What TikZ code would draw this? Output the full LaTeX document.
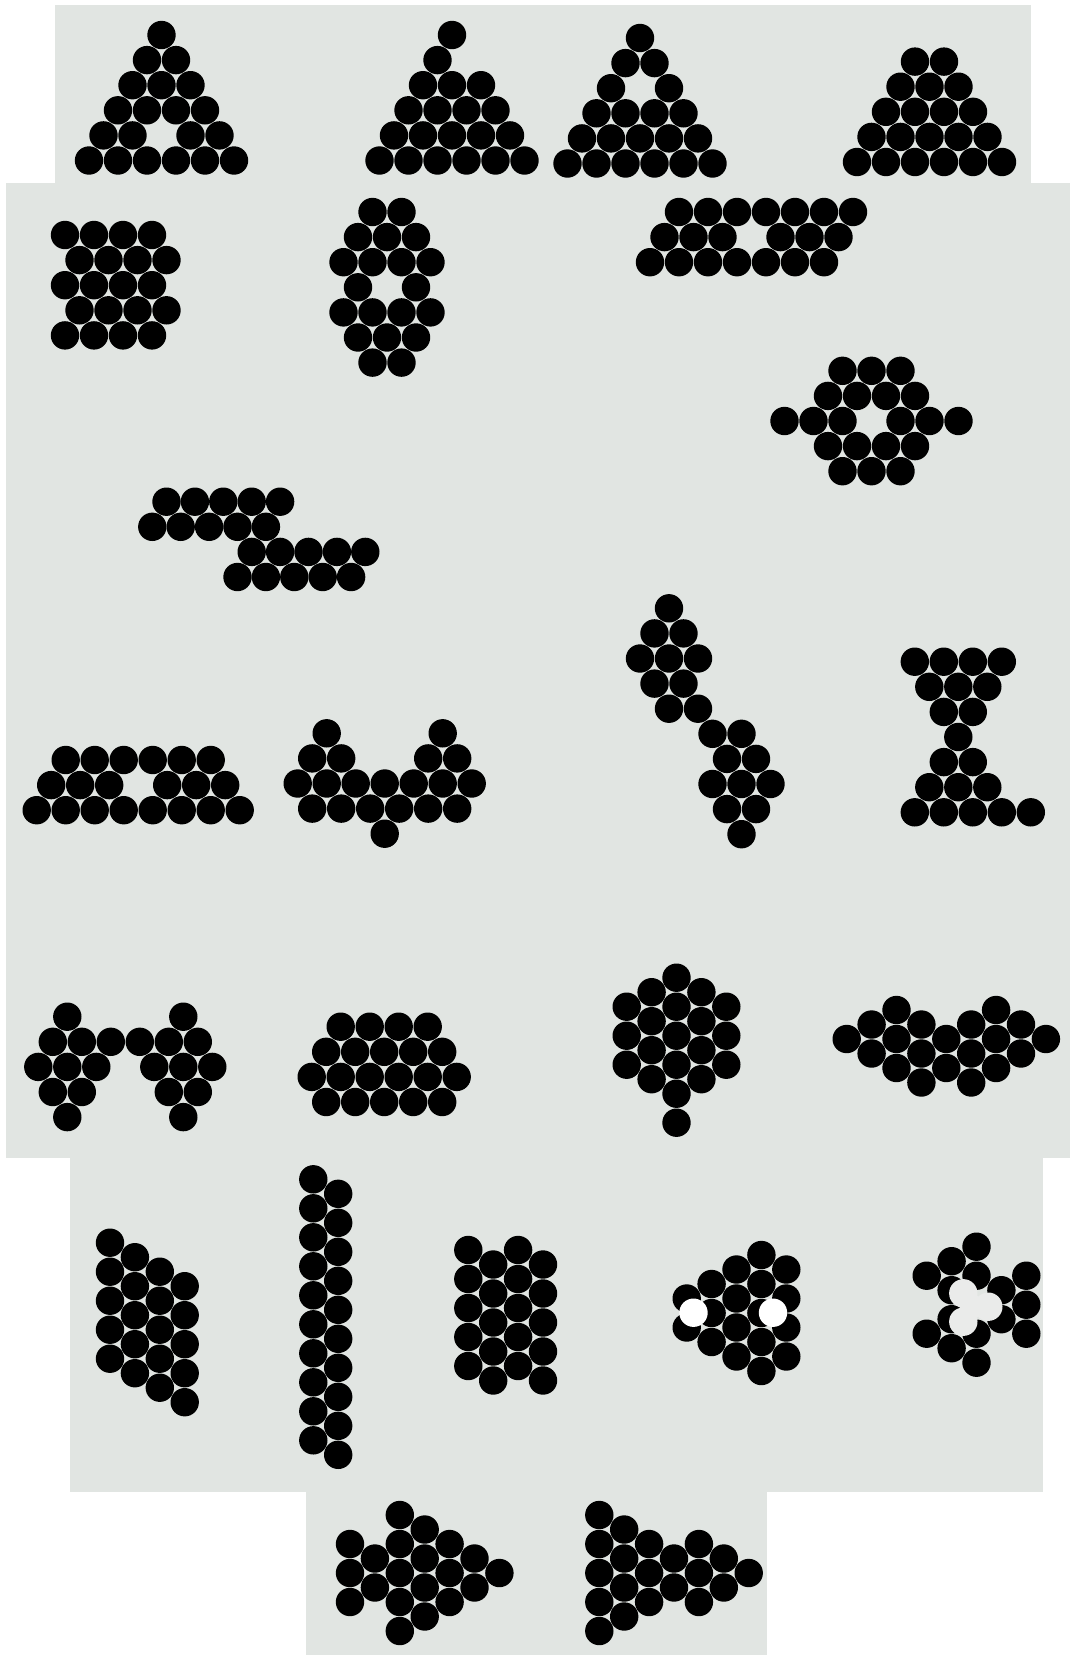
\documentclass[tikz,border=0pt]{standalone}
\usepackage{tikz}
\usepackage{xcolor}
\definecolor{panelGris}{HTML}{E1E5E2}
\definecolor{huecoGris}{HTML}{EAEBEA}
\tikzset{
  bola/.style={fill=black},
  hueco/.style={fill=white},
  huecoclaro/.style={fill=huecoGris},
  filas/.style={x={(7.25pt,0pt)}, y={(0pt,-12.55pt)}},
  columnas/.style={x={(12.45pt,0pt)}, y={(0pt,-7.25pt)}},
}
% racimo de bolas: red, x, y, lista col/fila
\newcommand{\racimo}[4]{%
  \begin{scope}[shift={(#2,#3)}, #1]
    \foreach \cc/\rr in {#4} \fill[bola] (\cc,\rr) circle[radius=7.1pt];
  \end{scope}}

\begin{document}
\begin{tikzpicture}[x=0.5pt, y=-0.5pt]
        \useasboundingbox (0,0) rectangle (1070,1655);
        % Fondo
        \fill[panelGris] (54.5,5) rectangle (1031,184);
        \fill[panelGris] (5.5,183) rectangle (1070,1158);
        \fill[panelGris] (69.5,1157) rectangle (1043,1492);
        \fill[panelGris] (306,1491) rectangle (766.5,1655);
        % Fila superior: triangulos
        \racimo{filas}{161.5}{35}{0/0, -1/1,1/1, -2/2,0/2,2/2, -3/3,-1/3,1/3,3/3,
          -4/4,-2/4,2/4,4/4, -5/5,-3/5,-1/5,1/5,3/5,5/5}
        \racimo{filas}{452}{35}{0/0, -1/1, -2/2,0/2,2/2, -3/3,-1/3,1/3,3/3,
          -4/4,-2/4,0/4,2/4,4/4, -5/5,-3/5,-1/5,1/5,3/5,5/5}
        \racimo{filas}{640}{38}{0/0, -1/1,1/1, -2/2,2/2, -3/3,-1/3,1/3,3/3,
          -4/4,-2/4,0/4,2/4,4/4, -5/5,-3/5,-1/5,1/5,3/5,5/5}
        \racimo{filas}{929.5}{36.5}{-1/1,1/1, -2/2,0/2,2/2, -3/3,-1/3,1/3,3/3,
          -4/4,-2/4,0/4,2/4,4/4, -5/5,-3/5,-1/5,1/5,3/5,5/5}
        % Segunda fila
        \racimo{filas}{65}{235}{0/0,2/0,4/0,6/0, 1/1,3/1,5/1,7/1, 0/2,2/2,4/2,6/2,
          1/3,3/3,5/3,7/3, 0/4,2/4,4/4,6/4}
        \racimo{filas}{387}{212}{-1/0,1/0, -2/1,0/1,2/1, -3/2,-1/2,1/2,3/2, -2/3,2/3,
          -3/4,-1/4,1/4,3/4, -2/5,0/5,2/5, -1/6,1/6}
        \racimo{filas}{650}{212}{2/0,4/0,6/0,8/0,10/0,12/0,14/0, 1/1,3/1,5/1,9/1,11/1,13/1,
          0/2,2/2,4/2,6/2,8/2,10/2,12/2}
        \racimo{filas}{871.5}{421}{-2/-2,0/-2,2/-2, -3/-1,-1/-1,1/-1,3/-1,
          -6/0,-4/0,-2/0,2/0,4/0,6/0, -3/1,-1/1,1/1,3/1, -2/2,0/2,2/2}
        \racimo{filas,x={(7.1pt,0pt)}}{152.3}{501.7}{1/0,3/0,5/0,7/0,9/0, 0/1,2/1,4/1,6/1,8/1,
          7/2,9/2,11/2,13/2,15/2, 6/3,8/3,10/3,12/3,14/3}
        % Tercera fila
        \racimo{filas}{36.7}{760}{2/0,4/0,6/0,8/0,10/0,12/0, 1/1,3/1,5/1,9/1,11/1,13/1,
          0/2,2/2,4/2,6/2,8/2,10/2,12/2,14/2}
        \racimo{filas}{297.7}{733.3}{2/0,10/0, 1/1,3/1,9/1,11/1, 0/2,2/2,4/2,6/2,8/2,10/2,12/2,
          1/3,3/3,5/3,7/3,9/3,11/3, 6/4}
        \racimo{filas}{640}{608.3}{2/0, 1/1,3/1, 0/2,2/2,4/2, 1/3,3/3, 2/4,4/4, 5/5,7/5,
          6/6,8/6, 5/7,7/7,9/7, 6/8,8/8, 7/9}
        \racimo{filas}{958.3}{661.7}{-3/0,-1/0,1/0,3/0, -2/1,0/1,2/1, -1/2,1/2, 0/3, -1/4,1/4,
          -2/5,0/5,2/5, -3/6,-1/6,1/6,3/6,5/6}
        % Cuarta fila
        \racimo{filas}{38.3}{1016.7}{2/0,10/0, 1/1,3/1,5/1,7/1,9/1,11/1, 0/2,2/2,4/2,8/2,10/2,12/2,
          1/3,3/3,9/3,11/3, 2/4,10/4}
        \racimo{filas}{311.7}{1026.7}{2/0,4/0,6/0,8/0, 1/1,3/1,5/1,7/1,9/1,
          0/2,2/2,4/2,6/2,8/2,10/2, 1/3,3/3,5/3,7/3,9/3}
        \racimo{columnas}{626.7}{977.7}{0/2,0/4,0/6, 1/1,1/3,1/5,1/7, 2/0,2/2,2/4,2/6,2/8,2/10,
          3/1,3/3,3/5,3/7, 4/2,4/4,4/6}
        \racimo{columnas}{846.7}{1010}{0/2, 1/1,1/3, 2/0,2/2,2/4, 3/1,3/3,3/5, 4/2,4/4,
          5/1,5/3,5/5, 6/0,6/2,6/4, 7/1,7/3, 8/2}
        % Quinta fila
        \racimo{columnas}{110}{1242.7}{0/0,0/2,0/4,0/6,0/8, 1/1,1/3,1/5,1/7,1/9,
          2/2,2/4,2/6,2/8,2/10, 3/3,3/5,3/7,3/9,3/11}
        \racimo{columnas}{313.3}{1179.3}{0/0,0/2,0/4,0/6,0/8,0/10,0/12,0/14,0/16,0/18,
          1/1,1/3,1/5,1/7,1/9,1/11,1/13,1/15,1/17,1/19}
        \racimo{columnas}{468.3}{1250}{0/0,0/2,0/4,0/6,0/8, 1/1,1/3,1/5,1/7,1/9,
          2/0,2/2,2/4,2/6,2/8, 3/1,3/3,3/5,3/7,3/9}
        \racimo{columnas}{686.7}{1255}{0/3,0/5, 1/2,1/4,1/6, 2/1,2/3,2/5,2/7,
          3/0,3/2,3/4,3/6,3/8, 4/1,4/3,4/5,4/7}
        \fill[hueco] (693.5,1312.7) circle[radius=7.1pt];
        \fill[hueco] (773,1312.7) circle[radius=7.1pt];
        \racimo{columnas}{926.7}{1246.7}{0/2,0/6, 1/1,1/3,1/5,1/7, 2/0,2/2,2/6,2/8,
          3/3,3/5, 4/2,4/4,4/6}
        \fill[huecoclaro] (963.3,1293.3) circle[radius=7.1pt];
        \fill[huecoclaro] (988.3,1306.7) circle[radius=7.1pt];
        \fill[huecoclaro] (963.3,1321.7) circle[radius=7.1pt];
        \fill[huecoclaro] (972,1306.5) circle[radius=6pt];
        % Fila inferior
        \racimo{columnas}{350}{1515}{0/2,0/4,0/6, 1/3,1/5, 2/0,2/2,2/4,2/6,2/8,
          3/1,3/3,3/5,3/7, 4/2,4/4,4/6, 5/3,5/5, 6/4}
        \racimo{columnas}{599.3}{1515}{0/0,0/2,0/4,0/6,0/8, 1/1,1/3,1/5,1/7, 2/2,2/4,2/6,
          3/3,3/5, 4/2,4/4,4/6, 5/3,5/5, 6/4}
      \end{tikzpicture}
\end{document}
